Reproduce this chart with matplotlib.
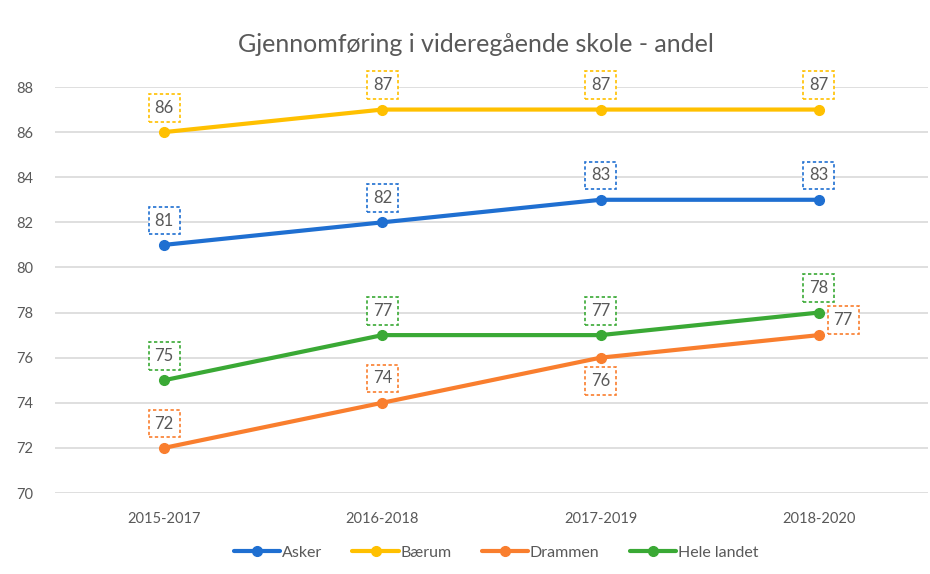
import matplotlib
matplotlib.use("Agg")
import matplotlib.pyplot as plt

plt.rcParams['font.family'] = ['Lato', 'DejaVu Sans']

periods = ["2015-2017", "2016-2018", "2017-2019", "2018-2020"]
asker = [81, 82, 83, 83]
baerum = [86, 87, 87, 87]
drammen = [72, 74, 76, 77]
hele_landet = [75, 77, 77, 78]
yticks = [70, 72, 74, 76, 78, 80, 82, 84, 86, 88]

series = [
    ("Asker", asker, "#1F6FD1", ["above"] * 4),
    ("Bærum", baerum, "#FFC000", ["above"] * 4),
    ("Drammen", drammen, "#F97E2E", ["above", "above", "below", "right"]),
    ("Hele landet", hele_landet, "#3AA935", ["above"] * 4),
]

fig = plt.figure(figsize=(9.3, 5.74), dpi=100)
ax = fig.add_axes([55 / 930, 1 - 493 / 574, (928 - 55) / 930, (493 - 87) / 574])

x = list(range(len(periods)))
for name, vals, col, pos in series:
    ax.plot(x, vals, color=col, lw=3, marker="o", ms=7, label=name, zorder=3,
            solid_capstyle="round")
    for xi, v, p in zip(x, vals, pos):
        if p == "above":
            off = (0, 17.5)
        elif p == "below":
            off = (0, -17)
        else:
            off = (17.5, 11)
        ax.annotate(str(v), (xi, v), xytext=off, textcoords="offset points",
                    ha="center", va="center", fontsize=12, color="#595959",
                    bbox=dict(boxstyle="square,pad=0.35", fc="white", ec=col,
                              ls=(0, (2, 1.5)), lw=1.2), zorder=4)

ax.set_xlim(-0.5, 3.5)
ax.set_ylim(70, 88)
ax.set_yticks(yticks)
ax.set_xticks(x)
ax.set_xticklabels(periods)
ax.tick_params(length=0, labelsize=10.5, labelcolor="#595959")
ax.tick_params(axis="y", pad=16)
ax.tick_params(axis="x", pad=14)
ax.grid(axis="y", color="#D9D9D9", lw=1.2)
ax.set_axisbelow(True)
for s in ax.spines.values():
    s.set_visible(False)

fig.text(476 / 930, 1 - 45 / 574, "Gjennomføring i videregående skole - andel",
         ha="center", va="center", fontsize=18, color="#595959")

fig.legend(loc="center", bbox_to_anchor=(496 / 930, 1 - 553 / 574), ncol=4,
           frameon=False, fontsize=11.5, labelcolor="#595959",
           handlelength=2.9, handletextpad=0.1, columnspacing=1.9)

fig.savefig("out.png", dpi=100, facecolor="white")
